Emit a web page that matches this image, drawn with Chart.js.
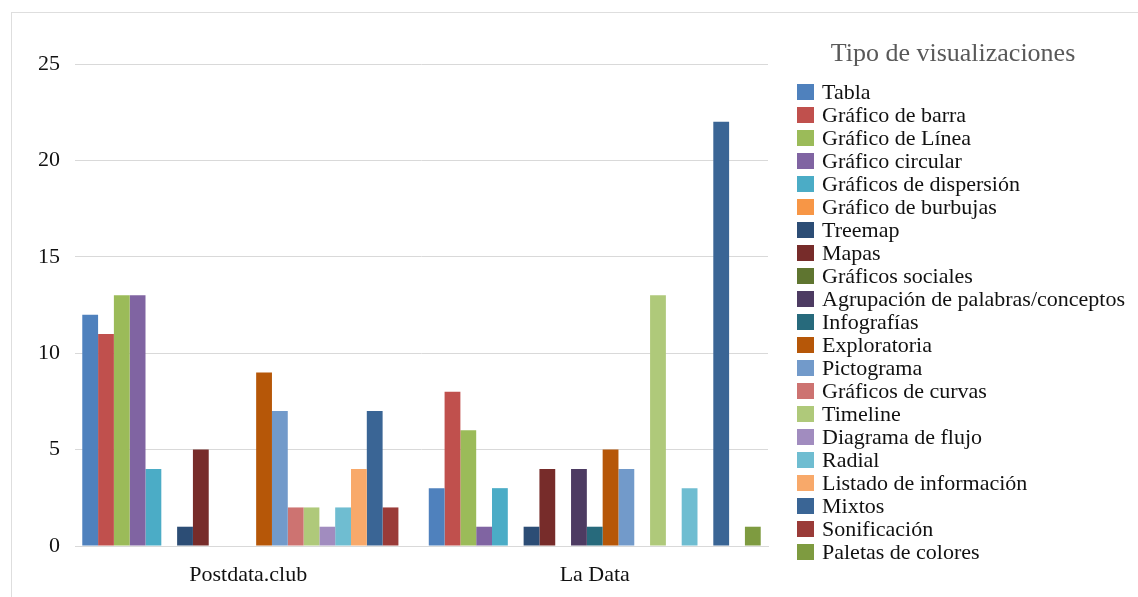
<!DOCTYPE html>
<html lang="es">
<head>
    <meta charset="UTF-8">
    <title>Tipo de visualizaciones</title>
    <script src="https://cdn.jsdelivr.net/npm/chart.js@4.4.0/dist/chart.umd.min.js"></script>
    <style>
        body {
            margin: 0;
            background: #ffffff;
            font-family: "Liberation Serif", "Times New Roman", serif;
        }
        .frame {
            position: absolute;
            left: 11px;
            top: 12px;
            width: 1140px;
            height: 600px;
            border-left: 1px solid #dedede;
            border-top: 1px solid #dedede;
        }
        .chart-box {
            position: absolute;
            left: 0;
            top: 0;
            width: 1138px;
            height: 597px;
        }
        .legend-title {
            position: absolute;
            left: 790px;
            width: 326px;
            top: 37px;
            text-align: center;
            font-size: 26px;
            line-height: 32px;
            color: #595959;
        }
        .legend {
            position: absolute;
            left: 797px;
            top: 80px;
            margin: 0;
            padding: 0;
            list-style: none;
        }
        .legend li {
            height: 23px;
            display: flex;
            align-items: center;
            font-size: 22px;
            color: #111;
            white-space: nowrap;
        }
        .legend .swatch {
            width: 17px;
            height: 16px;
            margin-right: 8px;
            flex: none;
        }
    </style>
</head>
<body>
    <div class="frame"></div>
    <div class="chart-box"><canvas id="chart"></canvas></div>
    <div class="legend-title">Tipo de visualizaciones</div>
    <ul class="legend" id="legend"></ul>

    <script>
        const categories = ['Postdata.club', 'La Data'];

        const seriesNames = [
            'Tabla', 'Gráfico de barra', 'Gráfico de Línea', 'Gráfico circular',
            'Gráficos de dispersión', 'Gráfico de burbujas', 'Treemap', 'Mapas',
            'Gráficos sociales', 'Agrupación de palabras/conceptos', 'Infografías',
            'Exploratoria', 'Pictograma', 'Gráficos de curvas', 'Timeline',
            'Diagrama de flujo', 'Radial', 'Listado de información', 'Mixtos',
            'Sonificación', 'Paletas de colores'
        ];

        const postdataValues = [12, 11, 13, 13, 4, 0, 1, 5, 0, 0, 0, 9, 7, 2, 2, 1, 2, 4, 7, 2, 0];
        const laDataValues   = [3, 8, 6, 1, 3, 0, 1, 4, 0, 4, 1, 5, 4, 0, 13, 0, 3, 0, 22, 0, 1];

        const seriesColors = [
            '#4F81BD', '#C0504D', '#9BBB59', '#8064A2', '#4BACC6', '#F79646',
            '#2C4D75', '#772C2A', '#5F7530', '#4D3B62', '#276A7C', '#B65708',
            '#729ACA', '#CD7371', '#AFC97A', '#A18CBF', '#6FBDD1', '#F8A96A',
            '#3A6595', '#9A3B38', '#7E9B40'
        ];

        const yTicks = [0, 5, 10, 15, 20, 25];

        const serif = '"Liberation Serif", "Times New Roman", serif';

        const datasets = seriesNames.map((name, i) => ({
            label: name,
            data: [postdataValues[i], laDataValues[i]],
            backgroundColor: seriesColors[i],
            borderWidth: 0,
            categoryPercentage: 0.958,
            barPercentage: 1
        }));

        const chart = new Chart(document.getElementById('chart'), {
            type: 'bar',
            data: { labels: categories, datasets: datasets },
            options: {
                responsive: true,
                maintainAspectRatio: false,
                animation: false,
                layout: {
                    padding: { left: 38, right: 370, top: 64, bottom: 9 }
                },
                plugins: {
                    legend: { display: false },
                    tooltip: { enabled: false }
                },
                scales: {
                    x: {
                        grid: { display: false, drawTicks: false },
                        border: { color: '#d9d9d9' },
                        afterFit: axis => { axis.height = 42; },
                        ticks: {
                            color: '#111',
                            padding: 16,
                            font: { family: serif, size: 22 }
                        }
                    },
                    y: {
                        min: yTicks[0],
                        max: yTicks[yTicks.length - 1],
                        afterBuildTicks: axis => {
                            axis.ticks = yTicks.map(v => ({ value: v }));
                        },
                        afterFit: axis => { axis.width = 37; },
                        grid: { color: '#d9d9d9', drawTicks: false },
                        border: { display: false },
                        ticks: {
                            color: '#111',
                            padding: 15,
                            font: { family: serif, size: 22 }
                        }
                    }
                }
            }
        });

        // html legend built from the chart's datasets
        const legendEl = document.getElementById('legend');
        chart.data.datasets.forEach(ds => {
            const li = document.createElement('li');
            const sw = document.createElement('span');
            sw.className = 'swatch';
            sw.style.background = ds.backgroundColor;
            li.appendChild(sw);
            li.appendChild(document.createTextNode(ds.label));
            legendEl.appendChild(li);
        });
    </script>
</body>
</html>
